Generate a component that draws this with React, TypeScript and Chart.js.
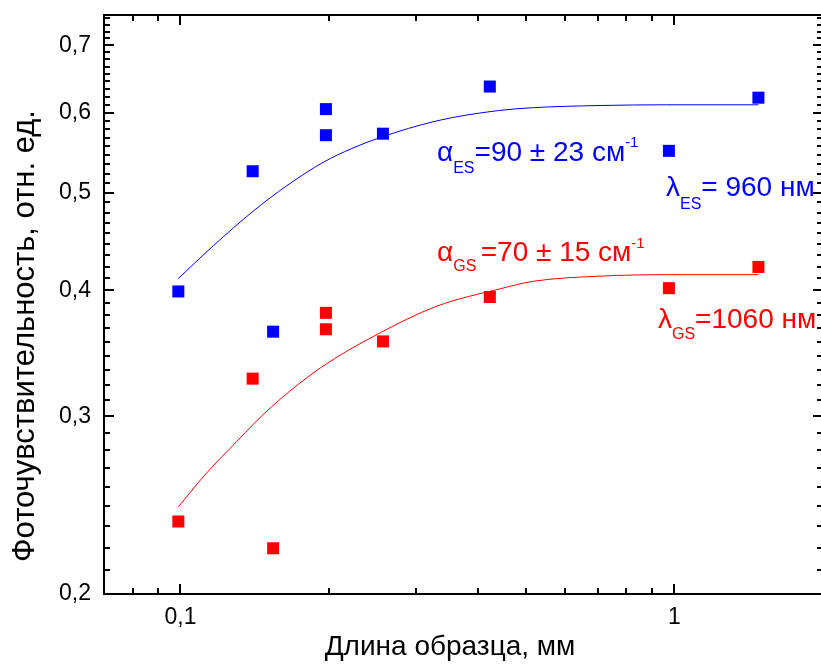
import React, { useEffect, useRef } from "react";
import { Chart, registerables } from "chart.js";

Chart.register(...registerables);

// ---- data ----
const lengths = [0.099, 0.140, 0.154, 0.197, 0.197, 0.257, 0.423, 0.975, 1.48];
const esValues = [0.399, 0.525, 0.364, 0.605, 0.570, 0.572, 0.637, 0.550, 0.621];
const gsValues = [0.236, 0.327, 0.222, 0.380, 0.366, 0.356, 0.394, 0.402, 0.422];

const esFitLengths = [0.099, 0.1166, 0.1405, 0.1642, 0.1948, 0.2223, 0.2537, 0.3304, 0.4403, 0.5183, 0.7073, 0.9652, 1.48];
const esFitValues = [0.411, 0.443, 0.4795, 0.508, 0.536, 0.553, 0.567, 0.589, 0.603, 0.607, 0.610, 0.611, 0.611];

const gsFitLengths = [0.099, 0.1113, 0.13, 0.1519, 0.1918, 0.2498, 0.3304, 0.4437, 0.5183, 0.7073, 0.9652, 1.48];
const gsFitValues = [0.244, 0.2615, 0.2833, 0.3058, 0.335, 0.3616, 0.3858, 0.4014, 0.4084, 0.4132, 0.4146, 0.4146];

const xMajorTicks = [0.1, 1];
const xTickLabels = ["0,1", "1"];
const xMinorTicks = [0.08, 0.09, 0.2, 0.3, 0.4, 0.5, 0.6, 0.7, 0.8, 0.9];
const yMajorTicks = [0.2, 0.3, 0.4, 0.5, 0.6, 0.7];
const yTickLabels = ["0,2", "0,3", "0,4", "0,5", "0,6", "0,7"];

const xTitle = "Длина образца, мм";
const yTitle = "Фоточувствительность, отн. ед.";

const BLUE = "#0000ff";
const RED = "#ff0000";
const FONT = "'Liberation Sans', Arial, sans-serif";

type Part = { t: string; size: number; dy: number };
const annotations: { x: number; y: number; color: string; parts: Part[] }[] = [
  {
    x: 437, y: 161, color: BLUE,
    parts: [
      { t: "α", size: 28, dy: 0 },
      { t: "ES", size: 16, dy: 12 },
      { t: "=90 ± 23 см", size: 28, dy: 0 },
      { t: "-1", size: 15, dy: -14 },
    ],
  },
  {
    x: 666, y: 196, color: BLUE,
    parts: [
      { t: "λ", size: 28, dy: 0 },
      { t: "ES", size: 16, dy: 12.5 },
      { t: "= 960 нм", size: 28, dy: 0 },
    ],
  },
  {
    x: 437, y: 261, color: RED,
    parts: [
      { t: "α", size: 28, dy: 0 },
      { t: "GS ", size: 16, dy: 10 },
      { t: "=70 ± 15 см", size: 28, dy: 0 },
      { t: "-1", size: 15, dy: -13 },
    ],
  },
  {
    x: 658, y: 328, color: RED,
    parts: [
      { t: "λ", size: 28, dy: 0 },
      { t: "GS", size: 16, dy: 11 },
      { t: "=1060 нм", size: 28, dy: 0 },
    ],
  },
];

function minorY(): number[] {
  const out: number[] = [];
  const majors = [0.2, 0.3, 0.4, 0.5, 0.6, 0.7, 0.8];
  for (let i = 0; i < majors.length - 1; i++) {
    const step = (majors[i + 1] - majors[i]) / 9;
    for (let k = 1; k <= 8; k++) out.push(majors[i] + k * step);
  }
  return out.filter((v) => v < 0.75);
}

const framePlugin = {
  id: "frameTicks",
  afterDraw(chart: any) {
    const { ctx, chartArea: a, scales } = chart;
    const xs = scales.x;
    const ys = scales.y;
    ctx.save();
    ctx.strokeStyle = "#000";
    ctx.lineWidth = 2;
    ctx.beginPath();
    const MAJ = 10;
    const MIN = 6;
    const xt = (v: number, len: number) => {
      const p = Math.round(xs.getPixelForValue(v));
      ctx.moveTo(p, a.bottom);
      ctx.lineTo(p, a.bottom - len);
      ctx.moveTo(p, a.top);
      ctx.lineTo(p, a.top + len);
    };
    const yt = (v: number, len: number) => {
      const p = Math.round(ys.getPixelForValue(v));
      ctx.moveTo(a.left, p);
      ctx.lineTo(a.left + len, p);
      ctx.moveTo(a.right, p);
      ctx.lineTo(a.right - len, p);
    };
    xMajorTicks.forEach((v) => xt(v, MAJ));
    xMinorTicks.forEach((v) => xt(v, MIN));
    yMajorTicks.forEach((v) => yt(v, MAJ));
    minorY().forEach((v) => yt(v, MIN));
    ctx.stroke();
    ctx.strokeRect(a.left, a.top, a.right - a.left, a.bottom - a.top);

    // axis titles
    ctx.fillStyle = "#000";
    ctx.textAlign = "center";
    ctx.textBaseline = "alphabetic";
    ctx.font = `28px ${FONT}`;
    ctx.fillText(xTitle, 450, 655);
    ctx.save();
    ctx.font = `31px ${FONT}`;
    ctx.translate(34, 336);
    ctx.rotate(-Math.PI / 2);
    ctx.fillText(yTitle, 0, 0);
    ctx.restore();

    // annotations
    ctx.textAlign = "left";
    for (const an of annotations) {
      let x = an.x;
      ctx.fillStyle = an.color;
      for (const p of an.parts) {
        ctx.font = `${p.size}px ${FONT}`;
        ctx.fillText(p.t, x, an.y + p.dy);
        x += ctx.measureText(p.t).width;
      }
    }
    ctx.restore();
  },
};

const zeroPad = (s: any) => {
  s.paddingTop = 0;
  s.paddingBottom = 0;
  s.paddingLeft = 0;
  s.paddingRight = 0;
};

export default function App() {
  const ref = useRef<HTMLCanvasElement | null>(null);
  useEffect(() => {
    document.body.style.margin = "0";
    const canvas = ref.current!;
    const toXY = (xsArr: number[], ysArr: number[]) => xsArr.map((x, i) => ({ x, y: ysArr[i] }));
    const chart = new Chart(canvas, {
      type: "scatter",
      data: {
        datasets: [
          {
            data: toXY(lengths, esValues),
            pointStyle: "rect",
            pointRadius: 8.5,
            backgroundColor: BLUE,
            borderWidth: 0,
            showLine: false,
          },
          {
            data: toXY(lengths, gsValues),
            pointStyle: "rect",
            pointRadius: 8.5,
            backgroundColor: RED,
            borderWidth: 0,
            showLine: false,
          },
          {
            data: toXY(esFitLengths, esFitValues),
            showLine: true,
            borderColor: BLUE,
            borderWidth: 1,
            pointRadius: 0,
            cubicInterpolationMode: "monotone",
          },
          {
            data: toXY(gsFitLengths, gsFitValues),
            showLine: true,
            borderColor: RED,
            borderWidth: 1,
            pointRadius: 0,
            cubicInterpolationMode: "monotone",
          },
        ],
      } as any,
      options: {
        animation: false,
        responsive: false,
        devicePixelRatio: 1,
        layout: { autoPadding: false, padding: { top: 15, right: 2, left: 0, bottom: 0 } },
        plugins: { legend: { display: false }, tooltip: { enabled: false } },
        scales: {
          x: {
            type: "logarithmic",
            position: "bottom",
            min: 0.07,
            max: 2,
            grid: { display: false, drawTicks: false },
            border: { display: false },
            afterBuildTicks: (s: any) => {
              s.ticks = xMajorTicks.map((v) => ({ value: v }));
            },
            afterFit: (s: any) => {
              s.height = 70;
              zeroPad(s);
            },
            ticks: {
              autoSkip: false,
              maxRotation: 0,
              padding: 10,
              color: "#000",
              font: { family: FONT, size: 23 },
              callback: (_v: any, i: number) => xTickLabels[i],
            },
          },
          y: {
            type: "logarithmic",
            position: "left",
            min: 0.2,
            max: 0.75,
            grid: { display: false, drawTicks: false },
            border: { display: false },
            afterBuildTicks: (s: any) => {
              s.ticks = yMajorTicks.map((v) => ({ value: v }));
            },
            afterFit: (s: any) => {
              s.width = 104;
              zeroPad(s);
            },
            ticks: {
              autoSkip: false,
              padding: 13,
              color: "#000",
              font: { family: FONT, size: 23 },
              callback: (_v: any, i: number) => yTickLabels[i],
            },
          },
        },
      } as any,
      plugins: [framePlugin],
    });
    return () => chart.destroy();
  }, []);
  return (
    <div style={{ width: 821, height: 664, overflow: "hidden", position: "relative", background: "#fff" }}>
      <canvas ref={ref} width={825} height={664} style={{ display: "block" }} />
    </div>
  );
}
